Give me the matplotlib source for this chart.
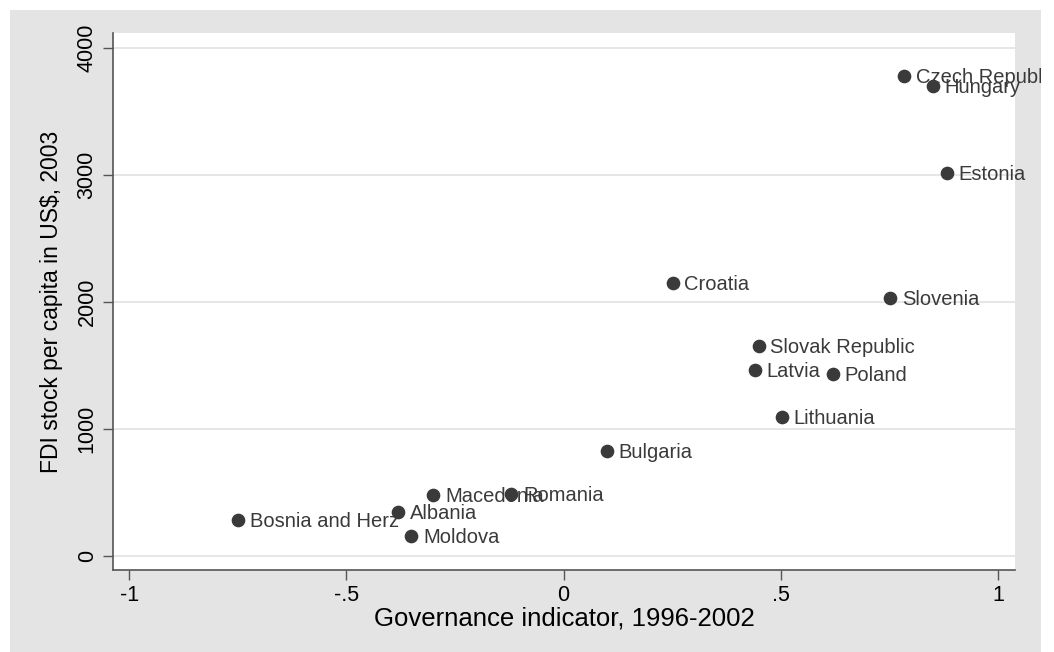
import matplotlib.pyplot as plt
from matplotlib.patches import Rectangle
from matplotlib.transforms import Bbox

plt.rcParams['font.family'] = ['Liberation Sans', 'DejaVu Sans']

# governance score vs FDI stock per capita
countries = ['Czech Republic', 'Hungary', 'Estonia', 'Croatia', 'Slovenia',
             'Slovak Republic', 'Latvia', 'Poland', 'Lithuania', 'Bulgaria',
             'Macedonia', 'Romania', 'Albania', 'Bosnia and Herz', 'Moldova']
governance = [0.783, 0.850, 0.882, 0.251, 0.751,
              0.449, 0.440, 0.620, 0.502, 0.099,
              -0.300, -0.120, -0.380, -0.749, -0.350]
fdi = [3774, 3695, 3011, 2146, 2028,
       1651, 1462, 1431, 1093, 825,
       480, 487, 346, 283, 157]

xticks = [-1, -0.5, 0, 0.5, 1]
xticklabels = ['-1', '-.5', '0', '.5', '1']
yticks = [0, 1000, 2000, 3000, 4000]

W, H = 1054, 652
fig = plt.figure(figsize=(W / 100, H / 100), dpi=100, facecolor='white')

# grey graph region
bg = Rectangle((10 / W, 0), (1041 - 10) / W, (H - 10) / H,
               transform=fig.transFigure, facecolor='#e4e4e4',
               edgecolor='none', zorder=0)
fig.patches.append(bg)

ax = fig.add_axes([113 / W, (H - 570) / H, (1015 - 113) / W, (570 - 33) / H])
ax.set_facecolor('white')
ax.set_zorder(1)

ax.scatter(governance, fdi, s=78, color='#3a3a3a', zorder=3, clip_on=False)

# labels may run past the plot region, but not past the grey area
clip = Bbox.from_extents(10, 0, 1041, H - 10)
for name, gx, fy in zip(countries, governance, fdi):
    t = ax.annotate(name, (gx, fy), xytext=(8.5, -1), textcoords='offset points',
                    ha='left', va='center', fontsize=14.5, color='#3a3a3a',
                    annotation_clip=False, zorder=4)
    t.set_clip_on(True)
    t.set_clip_path(None)
    t.set_clip_box(clip)

ax.set_xlim(-1.037, 1.039)
ax.set_ylim(-110, 4115)
ax.set_xticks(xticks)
ax.set_xticklabels(xticklabels)
ax.set_yticks(yticks)
ax.set_yticklabels([str(v) for v in yticks], rotation=90, va='center')

ax.grid(axis='y', color='#e4e4e4', linewidth=1.3)
ax.set_axisbelow(True)

for side in ['top', 'right']:
    ax.spines[side].set_visible(False)
for side in ['left', 'bottom']:
    ax.spines[side].set_color('#555555')
    ax.spines[side].set_linewidth(1.2)

ax.tick_params(direction='out', length=7, width=1, color='#555555',
               labelsize=15.5, labelcolor='black', pad=4)

ax.set_xlabel('Governance indicator, 1996-2002', fontsize=18.5, labelpad=0)
ax.set_ylabel(r'FDI stock per capita in US\$, 2003', fontsize=16.5)
ax.yaxis.set_label_coords(-0.0555, 0.5)

fig.savefig('out.png', dpi=100, facecolor='white')
